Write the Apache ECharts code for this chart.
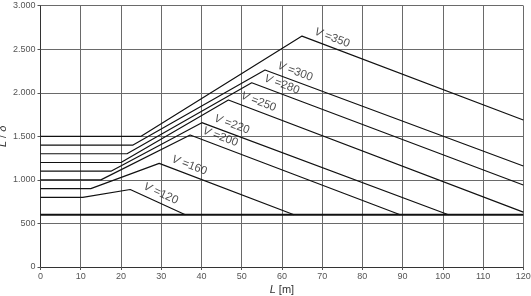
<!DOCTYPE html>
<html>
<head>
<meta charset="utf-8">
<script src="https://cdn.jsdelivr.net/npm/echarts@6/dist/echarts.min.js"></script>
<style>
html,body{margin:0;padding:0;background:#fff;}
#chart{width:531px;height:296px;}
</style>
</head>
<body>
<div id="chart"></div>
<script>
// ---- data ----
const speeds      = [120, 160, 200, 220, 250, 280, 300, 350];      // V [km/h]
const flatRatio   = [800, 900, 1000, 1100, 1200, 1300, 1400, 1500]; // L/δ at L = 0
const riseStartL  = [10.5, 12.5, 15, 17.5, 20, 21.5, 23, 25];       // L where the rise begins
const peakL       = [22.3, 29.5, 37.2, 40.1, 46.7, 52.5, 55.8, 65];
const peakRatio   = [890, 1190, 1515, 1657, 1917, 2116, 2262, 2651];
const endL        = [36, 63, 89.4, 101.4, 120, 120, 120, 120];
const endRatio    = [600, 600, 600, 600, 630, 941, 1160, 1688];
const baseL       = [0, 120];
const baseRatio   = [600, 600];
const xTicks      = [0, 10, 20, 30, 40, 50, 60, 70, 80, 90, 100, 110, 120];
const yTickLabels = ['0', '500', '1.000', '1.500', '2.000', '2.500', '3.000'];

const FONT = 'Arial';
const chart = echarts.init(document.getElementById('chart'), null, {renderer: 'canvas'});

function curve(i) {
  return [
    [0, flatRatio[i]],
    [riseStartL[i], flatRatio[i]],
    [peakL[i], peakRatio[i]],
    [endL[i], endRatio[i]]
  ];
}
function labelPoint(i) {
  const dx = 6;
  const t = dx / (endL[i] - peakL[i]);
  return [peakL[i] + dx, peakRatio[i] + t * (endRatio[i] - peakRatio[i])];
}

const series = [];
series.push({
  type: 'line', data: baseL.map((x, k) => [x, baseRatio[k]]),
  symbol: 'none', silent: true, animation: false,
  lineStyle: {color: '#111', width: 1.8}
});
speeds.forEach((v, i) => {
  series.push({
    type: 'line', data: curve(i), symbol: 'none', silent: true, animation: false,
    lineStyle: {color: '#111', width: 1.2}
  });
});
const labelSeriesIndex = series.length;
series.push({
  type: 'scatter', symbolSize: 0, animation: false, silent: true,
  data: speeds.map((v, i) => ({value: labelPoint(i), name: String(v)})),
  label: {
    show: true, position: 'inside', offset: [3, -9], rotate: -21,
    formatter: p => '{i|V} =' + p.name,
    color: '#222', fontFamily: FONT, fontSize: 11.5,
    rich: {i: {fontStyle: 'italic', fontFamily: FONT, fontSize: 11.5, color: '#222'}}
  }
});

chart.setOption({
  animation: false,
  backgroundColor: '#fff',
  grid: {left: 40.5, right: 7.7, top: 5.7, bottom: 29, containLabel: false, outerBoundsMode: 'none'},
  xAxis: {
    type: 'value', min: 0, max: 120, interval: 10,
    name: '{i|L} [m]', nameLocation: 'middle', nameGap: 17, nameMoveOverlap: false,
    nameTextStyle: {color: '#333', fontFamily: FONT, fontSize: 11,
      rich: {i: {fontStyle: 'italic', fontFamily: FONT, fontSize: 11, color: '#333'}}},
    axisLine: {show: true, lineStyle: {color: '#333', width: 1}},
    axisTick: {show: true, length: 3, lineStyle: {color: '#555'}},
    axisLabel: {color: '#555', fontFamily: FONT, fontSize: 9, margin: 5,
      formatter: v => xTicks.indexOf(v) >= 0 ? String(v) : ''},
    splitLine: {show: true, lineStyle: {color: '#6a6a6a', width: 1}}
  },
  yAxis: {
    type: 'value', min: 0, max: 3000, interval: 500,
    name: '{i|L} / {i|δ}', nameLocation: 'middle', nameGap: 32, nameRotate: 90, nameMoveOverlap: false,
    nameTextStyle: {color: '#333', fontFamily: FONT, fontSize: 11,
      rich: {i: {fontStyle: 'italic', fontFamily: FONT, fontSize: 11, color: '#333'}}},
    axisLine: {show: true, lineStyle: {color: '#333', width: 1}},
    axisTick: {show: true, length: 3, lineStyle: {color: '#555'}},
    axisLabel: {color: '#555', fontFamily: FONT, fontSize: 9, margin: 5,
      formatter: v => yTickLabels[Math.round(v / 500)]},
    splitLine: {show: true, lineStyle: {color: '#6a6a6a', width: 1}}
  },
  series: series
});

// rotate each label to follow its descending line
const rotated = speeds.map((v, i) => {
  const a = chart.convertToPixel({gridIndex: 0}, [peakL[i], peakRatio[i]]);
  const b = chart.convertToPixel({gridIndex: 0}, [endL[i], endRatio[i]]);
  const ang = Math.atan2(b[1] - a[1], b[0] - a[0]) * 180 / Math.PI;
  return {value: labelPoint(i), name: String(v), label: {rotate: -ang}};
});
const upd = [];
for (let k = 0; k < labelSeriesIndex; k++) upd.push({});
upd.push({data: rotated});
chart.setOption({series: upd});
</script>
</body>
</html>
